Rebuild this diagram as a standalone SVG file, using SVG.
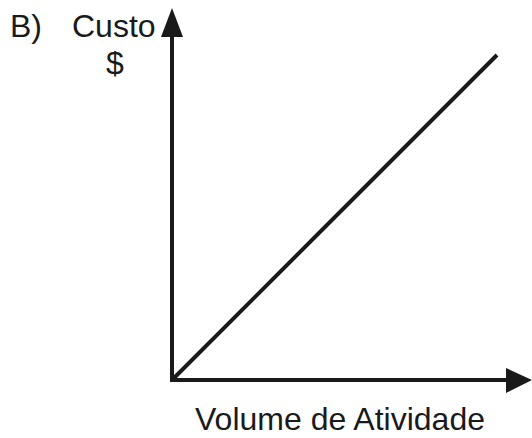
<svg xmlns="http://www.w3.org/2000/svg" width="532" height="438" viewBox="0 0 532 438">
<style>
text{font-family:"Liberation Sans",Arial,sans-serif;font-size:32px;fill:#1a1a1a}
.ax{stroke:#1a1a1a;stroke-width:4;fill:none}
.ah{fill:#1a1a1a}
</style>
<rect width="532" height="438" fill="#fff"/>
<g id="labels">
<text x="10" y="37">B)</text>
<text x="72" y="37">Custo</text>
<text x="115" y="74" text-anchor="middle">$</text>
<text x="340" y="430" text-anchor="middle">Volume de Atividade</text>
</g>
<g id="connectors">
<line class="ax" x1="172" y1="382" x2="172" y2="30"/>
<polygon class="ah" points="172,8 183,37 161,37"/>
<line class="ax" x1="170" y1="380" x2="510" y2="380"/>
<polygon class="ah" points="532,380 506,368 506,393"/>
<line class="ax" x1="172" y1="380" x2="497" y2="55"/>
</g>
</svg>
